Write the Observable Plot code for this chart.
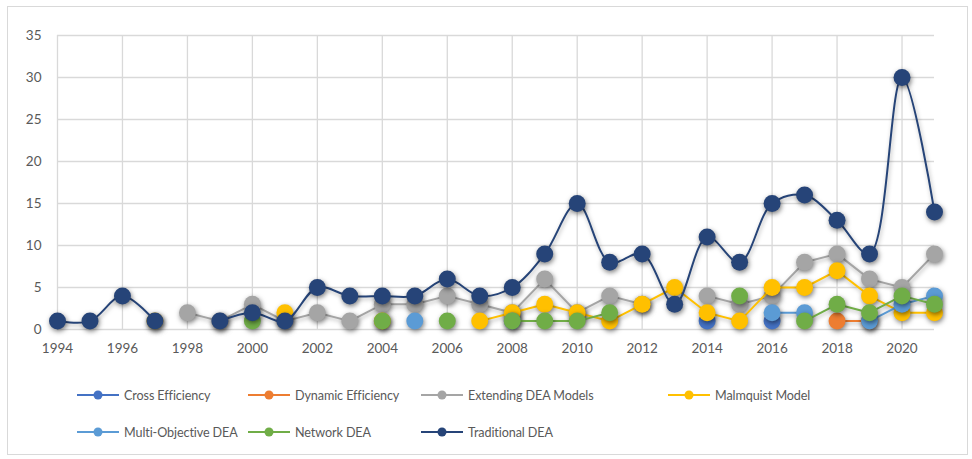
<!DOCTYPE html>
<html><head><meta charset="utf-8">
<script src="https://cdn.jsdelivr.net/npm/d3@7"></script>
<script src="https://cdn.jsdelivr.net/npm/@observablehq/plot@0.6"></script>
<style>
body{margin:0;background:#fff;font-family:Lato,"Open Sans",sans-serif;width:972px;height:459px;position:relative;overflow:hidden;}
#frame{position:absolute;left:7px;top:6px;width:961px;height:449px;border:1px solid #d9d9d9;box-sizing:border-box;}
#chart{position:absolute;left:0;top:0;}
#legend{position:absolute;left:0;top:370px;width:972px;height:80px;}
.item{position:absolute;height:20px;display:flex;align-items:center;font-size:12.6px;letter-spacing:-0.1px;color:#595959;white-space:nowrap;}
.item svg{margin-right:5px;overflow:visible;}
g[aria-label="dot"] circle{filter:drop-shadow(1.5px 2px 2.5px rgba(0,0,0,0.5));}
g[aria-label="line"] path{filter:drop-shadow(1px 2px 2px rgba(0,0,0,0.3));}
</style></head>
<body>
<div id="frame"></div>
<div id="chart"></div>
<div id="legend"></div>
<script>
const years = [1994,1995,1996,1997,1998,1999,2000,2001,2002,2003,2004,2005,2006,2007,2008,2009,2010,2011,2012,2013,2014,2015,2016,2017,2018,2019,2020,2021];
const xTicks = [1994,1996,1998,2000,2002,2004,2006,2008,2010,2012,2014,2016,2018,2020];
const yTicks = [0,5,10,15,20,25,30,35];

const seriesNames = ["Cross Efficiency","Dynamic Efficiency","Extending DEA Models","Malmquist Model","Multi-Objective DEA","Network DEA","Traditional DEA"];
const seriesColors = ["#4472C4","#ED7D31","#A5A5A5","#FFC000","#5B9BD5","#70AD47","#264478"];

//                    1994 95   96   97   98   99   2000 01   02   03   04   05   06   07   08   09   10   11   12   13   14   15   16   17   18   19   20   21
const crossEff    = [null,null,null,null,null,null,null,null,null,null,null,null,null,null,null,null,null,null,null,null,1,   null,1,   null,null,null,null,null];
const dynamicEff  = [null,null,null,null,null,null,null,null,null,null,null,null,null,null,null,null,null,null,null,null,null,null,null,null,1,   1,   null,null];
const extending   = [null,null,null,null,2,   1,   3,   1,   2,   1,   3,   3,   4,   3,   2,   6,   2,   4,   3,   null,4,   3,   4,   8,   9,   6,   5,   9];
const malmquist   = [null,null,null,1,   null,null,null,2,   null,null,1,   null,null,1,   2,   3,   2,   1,   3,   5,   2,   1,   5,   5,   7,   4,   2,   2];
const multiObj    = [null,null,null,null,null,null,null,null,null,null,null,1,   null,null,1,   null,null,null,null,null,null,null,2,   2,   null,1,   3,   4];
const network     = [null,null,null,null,null,null,1,   null,null,null,1,   null,1,   null,1,   1,   1,   2,   null,null,null,4,   null,1,   3,   2,   4,   3];
const traditional = [1,   1,   4,   1,   null,1,   2,   1,   5,   4,   4,   4,   6,   4,   5,   9,   15,  8,   9,   3,   11,  8,   15,  16,  13,  9,   30,  14];

const seriesValues = [crossEff, dynamicEff, extending, malmquist, multiObj, network, traditional];

const marks = [
  Plot.ruleY(yTicks, {stroke:"#d9d9d9", strokeWidth:1.3}),
  Plot.ruleX(xTicks, {stroke:"#d9d9d9", strokeWidth:1.3}),
  Plot.axisX({ticks:xTicks, tickFormat:d=>String(d), tickSize:0, tickPadding:14, label:null}),
  Plot.axisY({ticks:yTicks, tickSize:0, tickPadding:16, label:null})
];
seriesValues.forEach((vals, s) => {
  const rows = years.map((yr, i) => ({year: yr, value: vals[i] == null ? NaN : vals[i], series: seriesNames[s]}));
  marks.push(Plot.line(rows, {x:"year", y:"value", stroke:seriesColors[s], strokeWidth:2,
    curve: s === 6 ? "catmull-rom" : "linear"}));
  marks.push(Plot.dot(rows.filter(r => !isNaN(r.value)), {x:"year", y:"value", r:8.5, fill:seriesColors[s], stroke:"none"}));
});

const chart = Plot.plot({
  width: 972, height: 365,
  marginLeft: 57, marginRight: 38, marginTop: 35, marginBottom: 36,
  x: {domain:[1994,2021]},
  y: {domain:[0,35]},
  style: {fontFamily:"Lato, 'Open Sans', sans-serif", fontSize:"13.5px", color:"#595959", background:"transparent", overflow:"visible"},
  marks
});
document.getElementById("chart").appendChild(chart);

// legend
const legendPos = [
  [77,395],[248,395],[421,395],[668,395],
  [77,432],[248,432],[421,432]
];
const legend = document.getElementById("legend");
seriesNames.forEach((name, s) => {
  const [lx, ly] = legendPos[s];
  const d = document.createElement("div");
  d.className = "item";
  d.style.left = lx + "px";
  d.style.top = (ly - 370 - 10) + "px";
  d.innerHTML = `<svg width="42" height="20"><line x1="0" x2="42" y1="10" y2="10" stroke="${seriesColors[s]}" stroke-width="2"/><circle cx="21" cy="10" r="4.5" fill="${seriesColors[s]}"/></svg><span>${name}</span>`;
  legend.appendChild(d);
});
</script>
</body></html>
